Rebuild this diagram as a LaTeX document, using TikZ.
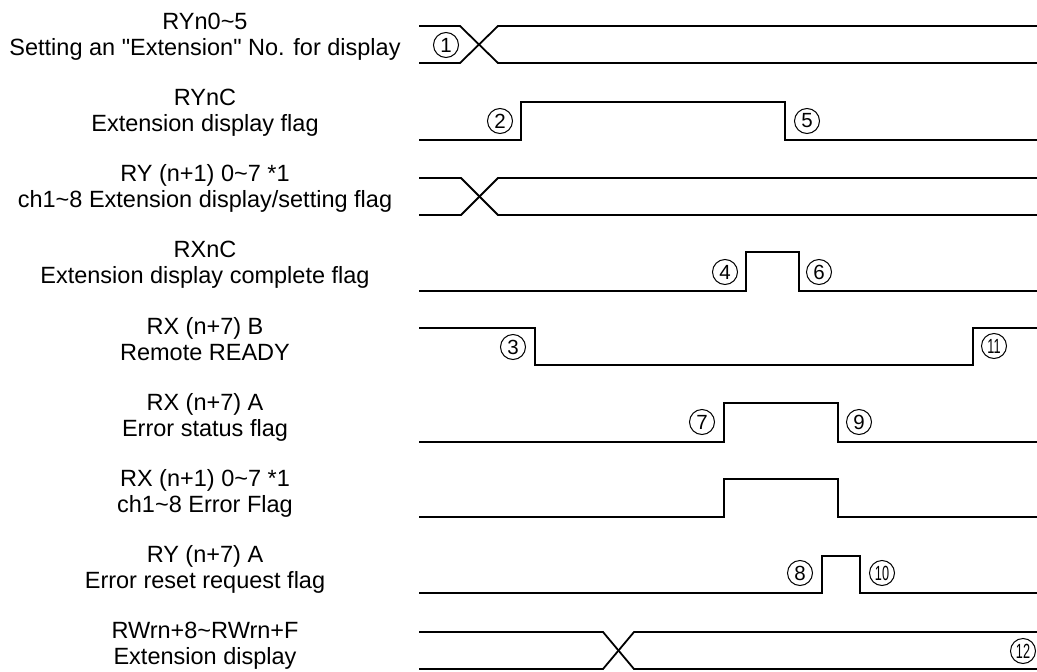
\documentclass[tikz,border=0pt]{standalone}
\usepackage{fontspec}
\setmainfont{Liberation Sans}
\usepackage{graphicx}

\begin{document}
\begin{tikzpicture}[x=1pt,y=-1pt,
  sig/.style={line width=1.8pt},
  lbl/.style={align=center,font=\fontsize{23.5}{26}\selectfont},
  num/.style={draw,circle,line width=1pt,inner sep=0pt,minimum size=25pt,font=\fontsize{20.5}{20.5}\selectfont}]
  \useasboundingbox (0,0) rectangle (1037,672);

  \node[lbl] (setno) at (205,37) {\strut RYn0\textasciitilde5\\Setting an \textquotedbl Extension\textquotedbl{} No. for display\strut};
  \node[lbl] (dispflag) at (205,113) {\strut RYnC\\Extension display flag\strut};
  \node[lbl] (chset) at (205,189) {\strut RY (n+1) 0\textasciitilde7 *1\\ch1\textasciitilde8 Extension display/setting flag\strut};
  \node[lbl] (dispdone) at (205,265) {\strut RXnC\\Extension display complete flag\strut};
  \node[lbl] (ready) at (205,342) {\strut RX (n+7) B\\Remote READY\strut};
  \node[lbl] (errstat) at (205,418) {\strut RX (n+7) A\\Error status flag\strut};
  \node[lbl] (cherr) at (205,494) {\strut RX (n+1) 0\textasciitilde7 *1\\ch1\textasciitilde8 Error Flag\strut};
  \node[lbl] (errreset) at (205,570) {\strut RY (n+7) A\\Error reset request flag\strut};
  \node[lbl] (extdisp) at (205,646) {\strut RWrn+8\textasciitilde RWrn+F\\Extension display\strut};

  \draw[sig] (419,26) -- (460,26) -- (498,63) -- (1037,63);
  \draw[sig] (419,63) -- (460,63) -- (498,26) -- (1037,26);
  \draw[sig] (419,140) -- (521,140) -- (521,102) -- (785,102) -- (785,140) -- (1037,140);
  \draw[sig] (419,178) -- (461,178) -- (498,215) -- (1037,215);
  \draw[sig] (419,215) -- (461,215) -- (498,178) -- (1037,178);
  \draw[sig] (419,291) -- (746,291) -- (746,252) -- (799,252) -- (799,291) -- (1037,291);
  \draw[sig] (419,328) -- (535,328) -- (535,365) -- (973,365) -- (973,328) -- (1037,328);
  \draw[sig] (419,442) -- (724,442) -- (724,403) -- (838,403) -- (838,442) -- (1037,442);
  \draw[sig] (419,517) -- (724,517) -- (724,479) -- (838,479) -- (838,517) -- (1037,517);
  \draw[sig] (419,593) -- (822,593) -- (822,556) -- (860,556) -- (860,593) -- (1037,593);
  \draw[sig] (419,632) -- (603,632) -- (634,669) -- (1037,669);
  \draw[sig] (419,669) -- (603,669) -- (634,632) -- (1037,632);

  \node[num] (n1) at (446,45) {1};
  \node[num] (n2) at (500,121) {2};
  \node[num] (n3) at (513,347) {3};
  \node[num] (n4) at (725,272) {4};
  \node[num] (n5) at (807,121) {5};
  \node[num] (n6) at (819,272) {6};
  \node[num] (n7) at (702,422) {7};
  \node[num] (n8) at (800,573) {8};
  \node[num] (n9) at (859,422) {9};
  \node[num] (n10) at (882,573) {\scalebox{0.62}[1]{10}};
  \node[num] (n11) at (994,346) {\scalebox{0.62}[1]{11}};
  \node[num] (n12) at (1023,651) {\scalebox{0.62}[1]{12}};
\end{tikzpicture}
\end{document}
